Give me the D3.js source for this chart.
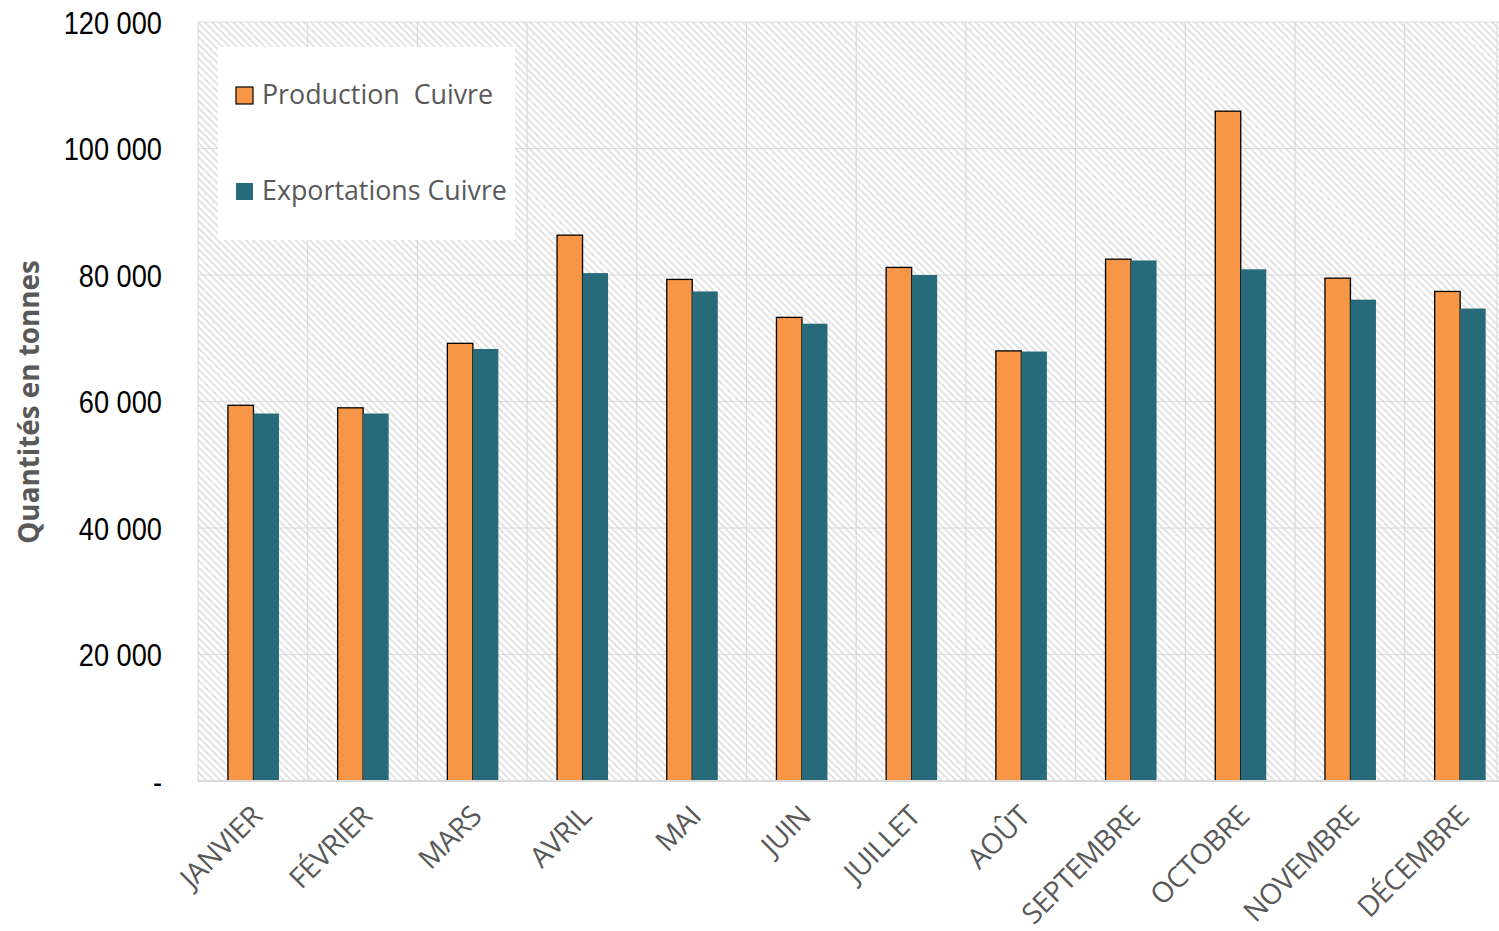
<!DOCTYPE html>
<html lang="fr">
<head>
<meta charset="UTF-8">
<title>Production et exportations de cuivre</title>
<script src="https://d3js.org/d3.v7.min.js"></script>
<style>
    body { margin: 0; background: #fff; }
    svg { display: block; }
</style>
</head>
<body>
<script>
// donnees
const mois = ["JANVIER", "FÉVRIER", "MARS", "AVRIL", "MAI", "JUIN", "JUILLET", "AOÛT", "SEPTEMBRE", "OCTOBRE", "NOVEMBRE", "DÉCEMBRE"];
const production = [59400, 59000, 69200, 86300, 79300, 73300, 81200, 68000, 82500, 105900, 79500, 77400];
const exportations = [58100, 58100, 68300, 80300, 77400, 72300, 80000, 67900, 82300, 80900, 76100, 74700];
const seriesNames = ["Production  Cuivre", "Exportations Cuivre"];
const yTicks = [0, 20000, 40000, 60000, 80000, 100000, 120000];

const W = 1499, H = 931;
const m = {left: 198, top: 22, bottom: 150};
const plotRight = 198 + 12 * 109.7; // la zone depasse le bord droit de l'image
const colors = ["#F79646", "#276A7A"];

const svg = d3.select("body").append("svg").attr("width", W).attr("height", H);

// motif hachure du fond
const defs = svg.append("defs");
defs.append("pattern")
    .attr("id", "hatch").attr("patternUnits", "userSpaceOnUse")
    .attr("width", 5).attr("height", 5)
    .attr("patternTransform", "rotate(45)")
    .append("rect").attr("width", 5).attr("height", 1.6).attr("fill", "#dcdcdc");

const x = d3.scaleBand().domain(mois).range([m.left, plotRight]);
const x1 = d3.scaleBand().domain([0, 1]).range([x.bandwidth() * 0.273, x.bandwidth() * 0.738]);
const y = d3.scaleLinear().domain([0, 120000]).range([H - m.bottom, m.top]);

svg.append("rect")
    .attr("x", m.left).attr("y", m.top)
    .attr("width", plotRight - m.left).attr("height", H - m.top - m.bottom)
    .attr("fill", "url(#hatch)");

// grille
svg.append("g").selectAll("line").data(yTicks.slice(1)).join("line")
    .attr("x1", m.left).attr("x2", plotRight)
    .attr("y1", d => y(d)).attr("y2", d => y(d))
    .attr("stroke", "#d9d9d9").attr("stroke-width", 1.2);
svg.append("g").selectAll("line").data(mois).join("line")
    .attr("x1", d => x(d)).attr("x2", d => x(d))
    .attr("y1", m.top).attr("y2", H - m.bottom)
    .attr("stroke", "#d9d9d9").attr("stroke-width", 1.2);
svg.append("line")
    .attr("x1", W - 2).attr("x2", W - 2)
    .attr("y1", m.top).attr("y2", H - m.bottom)
    .attr("stroke", "#d9d9d9");

// legende
svg.append("rect").attr("x", 218).attr("y", 47).attr("width", 297).attr("height", 193).attr("fill", "#fff");
const leg = svg.append("g").selectAll("g").data(seriesNames).join("g")
    .attr("transform", (d, i) => `translate(236, ${87 + i * 96})`);
leg.append("rect").attr("width", 17).attr("height", 17)
    .attr("fill", (d, i) => colors[i])
    .attr("stroke", (d, i) => i === 0 ? "#000" : "none").attr("stroke-width", 1.2);
leg.append("text").attr("x", 26).attr("y", 17)
    .attr("font-family", "'Open Sans', 'Noto Sans', sans-serif").attr("font-size", 26.8)
    .attr("fill", "#595959").style("white-space", "pre")
    .text(d => d);

// barres
const data = [production, exportations];
data.forEach((vals, s) => {
    svg.append("g").selectAll("rect").data(vals).join("rect")
        .attr("x", (d, i) => x(mois[i]) + x1(s))
        .attr("width", x1.bandwidth())
        .attr("y", d => y(d))
        .attr("height", d => y(0) - y(d))
        .attr("fill", colors[s])
        .attr("stroke", s === 0 ? "#000" : "none")
        .attr("stroke-width", 1.3);
});

// axe x
svg.append("line")
    .attr("x1", m.left).attr("x2", plotRight)
    .attr("y1", y(0)).attr("y2", y(0))
    .attr("stroke", "#d9d9d9").attr("stroke-width", 2);

const yAxis = d3.axisLeft(y).tickValues(yTicks).tickSize(0).tickPadding(0)
    .tickFormat(d => d === 0 ? "-" : d3.format(",")(d).replace(/,/g, " "));
const gy = svg.append("g").attr("transform", "translate(162,0)").call(yAxis);
gy.select(".domain").remove();
gy.selectAll("text")
    .attr("font-family", "'Liberation Sans', Arial, sans-serif")
    .attr("font-size", 32).attr("fill", "#000").attr("dy", "0.35em")
    .attr("transform", "scale(0.85,1)");

svg.append("g").selectAll("text").data(mois).join("text")
    .attr("transform", d => `translate(${x(d) + x.bandwidth() / 2 + 11}, ${y(0) + 37}) rotate(-45)`)
    .attr("text-anchor", "end")
    .attr("font-family", "'Open Sans', 'Noto Sans', sans-serif")
    .attr("font-size", 28.5).attr("fill", "#595959")
    .attr("letter-spacing", -0.6)
    .text(d => d);

svg.append("text")
    .attr("transform", `translate(39, 402) rotate(-90)`)
    .attr("text-anchor", "middle")
    .attr("font-family", "'Open Sans', 'Noto Sans', sans-serif")
    .attr("font-weight", "bold").attr("font-size", 27.8).attr("fill", "#595959")
    .text("Quantités en tonnes");
</script>
</body>
</html>
